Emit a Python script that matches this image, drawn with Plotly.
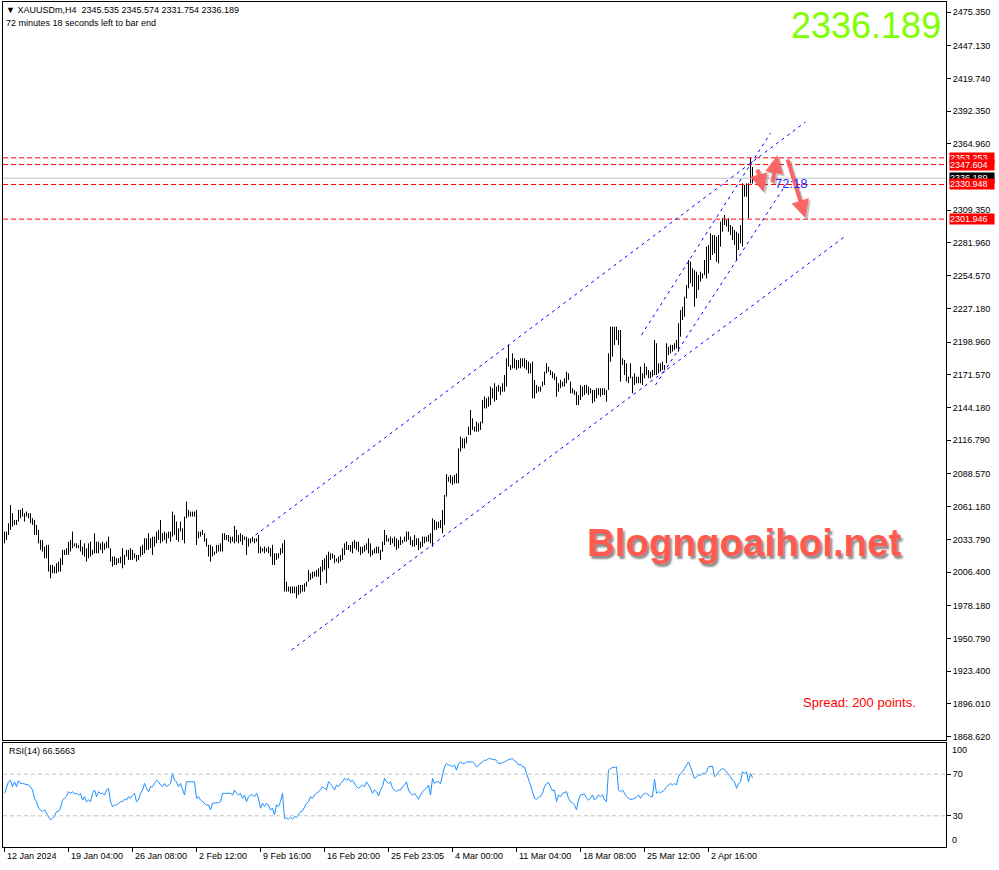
import plotly.graph_objects as go

# ---------------- DATA ----------------
symbol_header = "▼ XAUUSDm,H4  2345.535 2345.574 2331.754 2336.189"
timer_text = "72 minutes 18 seconds left to bar end"
last_price = 2336.189
rsi_last = 66.5663

# H4 bar highs / lows, one value per bar (bar index 0 .. 374)
highs = [
    2040.3, 2040.3, 2047.3, 2062.6, 2055.7, 2050.1, 2050.1, 2058.5, 2058.5, 2059.9,
    2055.7, 2057.1, 2055.7, 2055.7, 2051.5, 2050.1, 2045.9, 2041.7, 2033.3, 2033.3,
    2027.8, 2029.2, 2029.2, 2012.4, 2012.4, 2011.0, 2013.8, 2015.2, 2018.0, 2025.0,
    2025.0, 2026.4, 2031.9, 2033.3, 2040.3, 2030.5, 2030.5, 2029.2, 2033.3, 2027.8,
    2030.5, 2026.4, 2030.5, 2031.9, 2025.0, 2038.9, 2031.9, 2031.9, 2030.5, 2031.9,
    2030.5, 2031.9, 2036.1, 2026.4, 2019.4, 2019.4, 2018.0, 2018.0, 2019.4, 2026.4,
    2020.8, 2025.0, 2025.0, 2026.4, 2025.0, 2022.2, 2020.8, 2020.8, 2027.8, 2029.2,
    2034.7, 2034.7, 2038.9, 2034.7, 2036.1, 2036.1, 2040.3, 2041.7, 2050.1, 2038.9,
    2040.3, 2038.9, 2040.3, 2040.3, 2057.1, 2054.3, 2048.7, 2043.1, 2048.7, 2043.1,
    2052.9, 2065.4, 2058.5, 2057.1, 2057.1, 2057.1, 2058.5, 2040.3, 2040.3, 2041.7,
    2038.9, 2034.7, 2029.2, 2029.2, 2027.8, 2023.6, 2029.2, 2029.2, 2030.5, 2038.9,
    2038.9, 2037.5, 2037.5, 2036.1, 2036.1, 2045.1, 2041.7, 2037.5, 2038.9, 2037.5,
    2036.1, 2036.1, 2034.7, 2034.7, 2036.1, 2034.7, 2034.7, 2037.5, 2027.8, 2026.4,
    2027.8, 2026.4, 2027.8, 2026.4, 2029.2, 2022.2, 2022.2, 2022.2, 2026.4, 2030.5,
    2033.3, 1998.4, 1994.3, 1994.3, 1994.3, 1994.3, 1994.3, 1995.7, 1995.6, 1995.6,
    1997.0, 1998.4, 2008.2, 2005.4, 2006.8, 2006.8, 2008.2, 2009.6, 2011.0, 2016.5,
    2017.9, 2020.7, 2023.5, 2022.1, 2022.1, 2020.7, 2017.9, 2019.3, 2020.7, 2026.3,
    2030.5, 2031.9, 2029.1, 2029.1, 2031.9, 2033.3, 2031.9, 2031.9, 2027.7, 2027.7,
    2029.1, 2030.5, 2034.7, 2030.5, 2024.9, 2026.3, 2027.7, 2027.7, 2024.9, 2031.9,
    2041.7, 2037.5, 2034.7, 2036.1, 2034.7, 2036.1, 2034.7, 2033.3, 2036.1, 2033.3,
    2036.1, 2040.3, 2040.3, 2036.1, 2033.3, 2037.5, 2034.7, 2034.7, 2031.9, 2036.1,
    2036.1, 2036.1, 2037.5, 2038.9, 2051.4, 2050.0, 2048.6, 2048.6, 2050.0, 2058.4,
    2071.0, 2088.5, 2086.3, 2087.7, 2086.3, 2087.7, 2089.1, 2110.0, 2119.8, 2118.4,
    2118.4, 2119.8, 2128.2, 2142.1, 2135.2, 2128.2, 2132.4, 2131.0, 2132.4, 2150.5,
    2153.3, 2151.9, 2153.3, 2161.7, 2160.3, 2164.5, 2161.7, 2163.1, 2161.7, 2164.5,
    2171.4, 2185.4, 2196.6, 2179.8, 2189.6, 2185.4, 2184.0, 2184.0, 2185.4, 2185.4,
    2185.4, 2184.0, 2182.6, 2181.2, 2182.6, 2167.3, 2163.1, 2161.7, 2161.7, 2165.9,
    2174.2, 2181.2, 2178.4, 2175.6, 2174.2, 2172.8, 2170.0, 2164.5, 2167.3, 2165.9,
    2168.7, 2174.2, 2172.8, 2165.9, 2160.3, 2158.9, 2157.5, 2154.7, 2163.1, 2161.7,
    2163.1, 2163.1, 2161.7, 2160.3, 2158.9, 2158.9, 2160.3, 2160.3, 2160.3, 2160.3,
    2160.3, 2158.9, 2189.6, 2211.9, 2211.9, 2211.9, 2211.9, 2209.1, 2209.1, 2185.4,
    2184.0, 2181.2, 2170.0, 2181.2, 2170.0, 2172.8, 2170.0, 2170.0, 2178.4, 2172.8,
    2181.2, 2178.4, 2175.6, 2174.2, 2175.6, 2200.8, 2198.0, 2181.2, 2181.2, 2182.6,
    2179.8, 2198.0, 2195.2, 2196.6, 2196.6, 2198.0, 2200.8, 2214.7, 2225.8, 2228.6,
    2237.0, 2246.8, 2267.7, 2266.3, 2260.7, 2259.3, 2257.9, 2255.1, 2257.9, 2256.5,
    2267.7, 2278.9, 2280.3, 2290.0, 2288.6, 2288.6, 2287.2, 2288.6, 2299.8, 2302.6,
    2305.4, 2301.2, 2302.6, 2297.0, 2295.6, 2292.8, 2291.4, 2290.0, 2297.0, 2331.9,
    2330.5, 2331.9, 2331.9, 2353.253, 2345.574,
]
lows = [
    2030.5, 2033.3, 2037.5, 2041.7, 2044.5, 2045.9, 2045.9, 2048.7, 2051.5, 2052.9,
    2048.7, 2052.9, 2051.5, 2047.3, 2045.9, 2037.5, 2037.5, 2030.5, 2025.0, 2023.6,
    2018.0, 2018.0, 2006.8, 2001.2, 2005.4, 2005.4, 2005.4, 2006.8, 2006.8, 2012.4,
    2020.8, 2020.8, 2020.8, 2023.6, 2026.4, 2027.8, 2026.4, 2026.4, 2023.6, 2020.8,
    2019.4, 2015.2, 2018.0, 2019.4, 2020.8, 2022.2, 2022.2, 2022.2, 2025.0, 2022.2,
    2025.0, 2026.4, 2026.4, 2015.2, 2011.0, 2012.4, 2012.4, 2013.8, 2013.8, 2009.6,
    2012.4, 2019.4, 2016.6, 2016.6, 2016.6, 2018.0, 2015.2, 2016.6, 2019.4, 2020.8,
    2022.2, 2025.0, 2025.0, 2026.4, 2020.8, 2027.8, 2030.5, 2033.3, 2030.5, 2031.9,
    2033.3, 2030.5, 2034.7, 2031.9, 2036.1, 2037.5, 2033.3, 2031.9, 2040.3, 2033.3,
    2030.5, 2051.5, 2052.9, 2052.9, 2052.9, 2052.9, 2029.2, 2034.7, 2036.1, 2037.5,
    2031.9, 2027.8, 2019.4, 2015.2, 2019.4, 2020.8, 2022.2, 2023.6, 2023.6, 2023.6,
    2033.3, 2033.3, 2031.9, 2030.5, 2031.9, 2030.5, 2031.9, 2030.5, 2031.9, 2029.2,
    2033.3, 2020.8, 2027.8, 2030.5, 2031.9, 2030.5, 2031.9, 2022.2, 2022.2, 2023.6,
    2022.2, 2023.6, 2022.2, 2019.4, 2012.4, 2012.4, 2016.6, 2018.0, 2020.8, 2022.2,
    1990.1, 1990.1, 1990.1, 1988.7, 1988.7, 1988.7, 1984.5, 1987.3, 1988.6, 1990.0,
    1990.0, 1994.2, 1998.4, 1999.8, 2001.2, 2002.6, 2002.6, 2002.6, 1995.6, 2006.8,
    2008.2, 1997.0, 2009.6, 2016.5, 2017.9, 2013.8, 2015.2, 2013.8, 2015.2, 2016.5,
    2020.7, 2024.9, 2024.9, 2023.5, 2022.1, 2026.3, 2024.9, 2023.5, 2020.7, 2022.1,
    2023.5, 2024.9, 2022.1, 2019.3, 2020.7, 2022.1, 2022.1, 2022.1, 2016.5, 2023.5,
    2029.1, 2031.9, 2031.9, 2029.1, 2030.5, 2027.7, 2024.9, 2026.3, 2029.1, 2030.5,
    2031.9, 2031.9, 2033.3, 2029.1, 2027.7, 2027.7, 2029.1, 2024.9, 2026.3, 2027.7,
    2030.5, 2031.9, 2031.9, 2030.5, 2027.7, 2041.7, 2041.7, 2043.1, 2043.1, 2038.9,
    2045.9, 2069.6, 2082.1, 2080.7, 2079.3, 2080.7, 2080.7, 2080.7, 2107.3, 2110.0,
    2110.0, 2114.2, 2121.2, 2121.2, 2125.4, 2124.0, 2124.0, 2124.0, 2125.4, 2131.0,
    2143.5, 2143.5, 2144.9, 2146.3, 2151.9, 2149.1, 2150.5, 2157.5, 2154.7, 2157.5,
    2157.5, 2161.7, 2178.4, 2175.6, 2177.0, 2177.0, 2175.6, 2177.0, 2177.0, 2178.4,
    2177.0, 2175.6, 2172.8, 2172.8, 2151.9, 2151.9, 2156.1, 2157.5, 2157.5, 2161.7,
    2163.1, 2172.8, 2174.2, 2171.4, 2168.7, 2167.3, 2153.3, 2157.5, 2160.3, 2161.7,
    2161.7, 2164.5, 2167.3, 2156.1, 2156.1, 2154.7, 2146.3, 2146.3, 2150.5, 2153.3,
    2154.7, 2156.1, 2154.7, 2156.1, 2147.7, 2149.1, 2151.9, 2154.7, 2153.3, 2154.7,
    2154.7, 2149.1, 2158.9, 2182.6, 2186.8, 2196.6, 2200.8, 2196.6, 2165.9, 2179.8,
    2171.4, 2165.9, 2164.5, 2168.7, 2156.1, 2163.1, 2164.5, 2164.5, 2164.5, 2163.1,
    2168.7, 2171.4, 2168.7, 2168.7, 2170.0, 2171.4, 2171.4, 2172.8, 2174.2, 2175.6,
    2175.6, 2181.2, 2188.2, 2189.6, 2191.0, 2192.4, 2193.8, 2191.0, 2203.5, 2217.5,
    2220.3, 2235.6, 2244.0, 2248.2, 2245.4, 2228.6, 2235.6, 2242.6, 2249.6, 2252.3,
    2255.1, 2252.3, 2256.5, 2267.7, 2271.9, 2273.3, 2266.3, 2264.9, 2278.9, 2291.4,
    2297.0, 2295.6, 2291.4, 2288.6, 2284.4, 2280.3, 2267.7, 2276.1, 2281.7, 2278.9,
    2320.7, 2320.7, 2302.6, 2331.9, 2331.754,
]

# RSI(14) per bar
rsi_values = [
    51.6, 58.0, 62.7, 64.3, 58.0, 62.7, 58.0, 63.7, 61.1, 61.1,
    60.5, 59.6, 59.6, 58.0, 54.8, 46.8, 43.6, 37.3, 35.7, 34.1,
    35.7, 32.5, 29.3, 26.1, 27.7, 29.3, 34.1, 34.1, 37.3, 45.2,
    46.8, 48.4, 53.2, 51.6, 53.2, 51.0, 51.6, 50.0, 51.6, 45.2,
    48.4, 43.6, 45.2, 43.6, 51.6, 54.8, 48.4, 53.2, 51.6, 51.6,
    50.0, 54.8, 56.4, 43.6, 38.9, 40.4, 40.4, 42.0, 43.6, 43.6,
    45.9, 45.2, 48.4, 46.8, 50.0, 51.6, 43.6, 45.2, 51.6, 54.8,
    61.1, 56.4, 53.2, 58.0, 58.0, 61.1, 64.3, 62.7, 59.6, 58.0,
    61.1, 58.0, 59.6, 61.1, 70.7, 64.3, 62.7, 58.0, 61.1, 56.4,
    50.0, 62.7, 62.7, 62.7, 62.7, 62.7, 46.8, 48.4, 45.2, 43.6,
    42.0, 40.4, 40.4, 35.7, 42.0, 42.0, 42.0, 42.7, 43.6, 51.6,
    51.6, 51.6, 51.0, 51.6, 50.0, 54.8, 51.6, 50.0, 51.6, 46.8,
    50.0, 43.6, 48.4, 50.0, 50.0, 48.4, 51.6, 46.8, 37.3, 42.0,
    38.9, 42.0, 40.4, 35.7, 37.3, 30.9, 40.4, 38.9, 43.6, 51.6,
    27.7, 27.7, 26.8, 28.7, 26.8, 29.3, 28.3, 30.9, 34.1, 34.7,
    38.9, 42.0, 43.6, 48.4, 46.8, 50.0, 51.6, 53.2, 54.8, 58.0,
    56.4, 54.8, 62.7, 61.1, 58.0, 54.8, 59.6, 58.0, 61.1, 62.7,
    65.9, 64.3, 65.9, 62.7, 64.3, 61.1, 58.0, 56.4, 58.0, 59.6,
    58.0, 62.7, 59.6, 56.4, 51.6, 54.8, 53.2, 49.0, 54.8, 58.0,
    65.9, 62.7, 61.1, 62.7, 56.4, 54.8, 53.2, 54.8, 54.8, 58.0,
    59.6, 62.7, 54.8, 51.6, 50.0, 51.6, 48.4, 45.9, 50.0, 53.2,
    54.8, 56.4, 59.6, 50.0, 65.9, 61.1, 62.7, 62.7, 61.1, 70.7,
    77.1, 80.3, 78.7, 78.7, 77.1, 78.7, 73.9, 80.3, 81.8, 80.3,
    80.3, 81.8, 81.8, 81.8, 81.8, 80.3, 77.1, 78.7, 80.3, 81.8,
    83.4, 83.4, 85.0, 85.0, 84.1, 84.1, 83.4, 80.3,
    80.3, 80.9, 81.8, 83.4, 84.1, 84.4, 85.0, 82.8, 81.8, 78.7,
    79.6, 77.1, 77.1, 70.7, 65.9, 59.6, 53.2, 46.8, 45.9, 47.8,
    48.4, 51.6, 58.0, 61.1, 61.8, 58.0, 54.1, 54.8, 43.6, 50.0,
    48.4, 51.6, 52.2, 53.2, 46.8, 43.6, 42.7, 40.4, 35.7, 45.2,
    50.0, 50.6, 51.0, 46.8, 45.2, 46.8, 50.0, 45.2, 46.8, 50.0,
    48.4, 50.0, 45.2, 43.6, 73.9, 75.5, 76.4, 76.4, 77.1, 54.8,
    53.2, 54.8, 51.6, 48.4, 46.8, 45.9, 45.9, 46.8, 47.8, 50.0,
    46.8, 50.0, 51.6, 51.6, 50.0, 48.4, 48.4, 65.0, 51.6, 53.2,
    52.2, 53.2, 54.8, 58.0, 59.6, 61.1, 59.6, 61.1, 59.6, 67.5,
    70.7, 72.3, 75.5, 78.7, 81.8, 77.1, 70.7, 65.9, 67.5, 69.1,
    69.1, 70.7, 70.7, 72.3, 77.1, 77.1, 77.7, 67.5, 69.1, 72.3,
    73.9, 75.5, 74.5, 72.3, 70.7, 67.5, 64.3, 62.7, 56.4, 61.1,
    62.7, 72.3, 70.7, 72.3, 62.7, 70.7, 66.5663,
]

time_tick_bars = [0, 32, 64, 96, 128, 160, 192, 224, 256, 288, 320, 352]
time_tick_labels = ["12 Jan 2024", "19 Jan 04:00", "26 Jan 08:00", "2 Feb 12:00",
                    "9 Feb 16:00", "16 Feb 20:00", "25 Feb 23:05", "4 Mar 00:00",
                    "11 Mar 04:00", "18 Mar 08:00", "25 Mar 12:00", "2 Apr 16:00"]

price_ticks = [2475.350, 2447.130, 2419.740, 2392.350, 2364.960, 2309.350,
               2281.960, 2254.570, 2227.180, 2198.960, 2171.570, 2144.180, 2116.790,
               2088.570, 2061.180, 2033.790, 2006.400, 1978.180, 1950.790, 1923.400,
               1896.010, 1868.620]

level_prices = [2353.253, 2347.604, 2330.948, 2301.946]
rsi_levels = [70, 30]

# trend-channel objects: ((bar, price), (bar, price))
channel_lines = [
    ((125.5, 2037.5), (400.5, 2383.3)),
    ((143.5, 1941.2), (420.5, 2287.8)),
    ((318.5, 2205.0), (383.0, 2374.0)),
    ((325.5, 2163.1), (390.5, 2330.5)),
]
# hand-drawn arrows: (tail, head) in (bar, price)
arrow_marks = [
    ((376.3, 2344.7), (379.5, 2324.7)),
    ((383.8, 2331.4), (386.5, 2355.6)),
    ((391.3, 2353.1), (400.5, 2302.9)),
]
countdown_label = ("72:18", 384.0, 2331.8)

# ---------------- FIGURE ----------------
FONT = "Liberation Sans, Arial, sans-serif"
n = len(highs)
bx, by = [], []
for i in range(n):
    bx += [i, i, None]
    by += [lows[i], highs[i], None]

fig = go.Figure()
fig.add_trace(go.Scatter(x=bx, y=by, mode="lines", line=dict(color="black", width=1),
                         xaxis="x", yaxis="y", hoverinfo="skip", showlegend=False))
fig.add_trace(go.Scatter(x=list(range(len(rsi_values))), y=rsi_values, mode="lines",
                         line=dict(color="#1E90FF", width=1), xaxis="x2", yaxis="y2",
                         hoverinfo="skip", showlegend=False))

xr = [-0.75, 470.75]
shapes = []
for p in level_prices:
    shapes.append(dict(type="line", xref="x domain", x0=0, x1=1, yref="y", y0=p, y1=p,
                       line=dict(color="#FF0000", width=1, dash="5px,3px")))
shapes.append(dict(type="line", xref="x domain", x0=0, x1=1, yref="y", y0=last_price,
                   y1=last_price, line=dict(color="#C0C0C0", width=1)))
for lv in rsi_levels:
    shapes.append(dict(type="line", xref="x2 domain", x0=0, x1=1, yref="y2", y0=lv, y1=lv,
                       line=dict(color="#C0C0C0", width=1, dash="4px,3px")))
for (a, b) in channel_lines:
    shapes.append(dict(type="line", xref="x", yref="y", x0=a[0], y0=a[1], x1=b[0], y1=b[1],
                       line=dict(color="#0000FF", width=1, dash="3px,4px")))

ann = []
ann.append(dict(text=symbol_header, xref="paper", yref="paper", x=0, y=0.9905, xshift=1,
                xanchor="left", yanchor="middle", showarrow=False,
                font=dict(family=FONT, size=9, color="black")))
ann.append(dict(text=timer_text, xref="paper", yref="paper", x=0, y=0.9751, xshift=1,
                xanchor="left", yanchor="middle", showarrow=False,
                font=dict(family=FONT, size=9, color="black")))
ann.append(dict(text=f"{last_price:.3f}", xref="paper", yref="paper", x=1, y=0.9720,
                xshift=-3, xanchor="right", yanchor="middle", showarrow=False,
                font=dict(family=FONT, size=36, color="#80FF00")))
ann.append(dict(text="<b>Blogngoaihoi.net</b>", xref="paper", yref="paper", x=0.6170,
                y=0.3598, xanchor="left", yanchor="middle", showarrow=False,
                font=dict(family=FONT, size=38.5, color="#FF5A50",
                          shadow="2px 3px 2px rgba(80,80,80,0.65)")))
ann.append(dict(text="Spread: 200 points.", xref="paper", yref="paper", x=0.8464,
                y=0.1708, xanchor="left", yanchor="middle", showarrow=False,
                font=dict(family=FONT, size=13, color="#FF0000")))
ann.append(dict(text=f"RSI(14) {rsi_last:.4f}", xref="paper", yref="paper", x=0,
                y=0.1142, xshift=4, xanchor="left", yanchor="middle", showarrow=False,
                font=dict(family=FONT, size=9, color="black")))
ann.append(dict(text="100", xref="paper", yref="y2", x=1, y=93.7, xshift=4,
                xanchor="left", yanchor="middle", showarrow=False,
                font=dict(family=FONT, size=9, color="black")))
ann.append(dict(text="0", xref="paper", yref="y2", x=1, y=6.3, xshift=4,
                xanchor="left", yanchor="middle", showarrow=False,
                font=dict(family=FONT, size=9, color="black")))
for tb, tl in zip(time_tick_bars, time_tick_labels):
    ann.append(dict(text=tl, xref="x2", yref="paper", x=tb, y=0, yshift=-2,
                    xanchor="left", yanchor="top", showarrow=False,
                    font=dict(family=FONT, size=9, color="black")))
# right side price labels (drawn in stacking order)
label_specs = [(level_prices[0], "#FF0000"), (level_prices[1], "#FF0000"),
               (last_price, "#000000"), (level_prices[2], "#FF0000"),
               (level_prices[3], "#FF0000")]
for p, c in label_specs:
    ann.append(dict(text=f"{p:.3f}", xref="paper", yref="y", x=1, y=p, xshift=3,
                    xanchor="left", yanchor="middle", showarrow=False, bgcolor=c,
                    borderpad=0, width=44, align="left",
                    font=dict(family=FONT, size=9, color="white")))
# hand-drawn arrows (shadow then colour)
for (t, h) in arrow_marks:
    ann.append(dict(x=h[0], y=h[1], ax=t[0], ay=t[1], xref="x", yref="y", axref="x",
                    ayref="y", text="", showarrow=True, arrowhead=2, arrowsize=0.9,
                    arrowwidth=4, arrowcolor="rgba(90,90,90,0.35)", xshift=2, yshift=-2))
for (t, h) in arrow_marks:
    ann.append(dict(x=h[0], y=h[1], ax=t[0], ay=t[1], xref="x", yref="y", axref="x",
                    ayref="y", text="", showarrow=True, arrowhead=2, arrowsize=0.9,
                    arrowwidth=4, arrowcolor="rgba(255,90,90,0.9)"))
ann.append(dict(text=countdown_label[0], xref="x", yref="y", x=countdown_label[1],
                y=countdown_label[2], xanchor="left", yanchor="middle", showarrow=False,
                font=dict(family=FONT, size=13, color="#2A2AFF")))

axis_common = dict(showgrid=False, zeroline=False, showline=True, mirror=True,
                   linecolor="black", linewidth=1)
fig.update_layout(
    width=999, height=870,
    margin=dict(l=3, r=53, t=2, b=23),
    paper_bgcolor="white", plot_bgcolor="white",
    showlegend=False,
    xaxis=dict(domain=[0, 1], range=xr, anchor="y", showticklabels=False, ticks="",
               **axis_common),
    yaxis=dict(domain=[0.12663, 1], range=[1865.84, 2483.72], anchor="x", side="right",
               tickvals=price_ticks, ticktext=[f"{v:.3f}" for v in price_ticks],
               ticks="outside", ticklen=4, tickcolor="black",
               tickfont=dict(family=FONT, size=9, color="black"), **axis_common),
    xaxis2=dict(domain=[0, 1], range=xr, anchor="y2", tickvals=time_tick_bars,
                showticklabels=False, ticks="outside", ticklen=4, tickcolor="black",
                **axis_common),
    yaxis2=dict(domain=[0, 0.12308], range=[0, 100], anchor="x2", side="right",
                tickvals=rsi_levels, ticktext=[str(v) for v in rsi_levels],
                ticks="outside", ticklen=4, tickcolor="black",
                tickfont=dict(family=FONT, size=9, color="black"), **axis_common),
    shapes=shapes,
    annotations=ann,
)

fig.write_html("out.html", config={"displayModeBar": False},
               post_script="document.body.style.margin='0';document.body.style.padding='0';")
